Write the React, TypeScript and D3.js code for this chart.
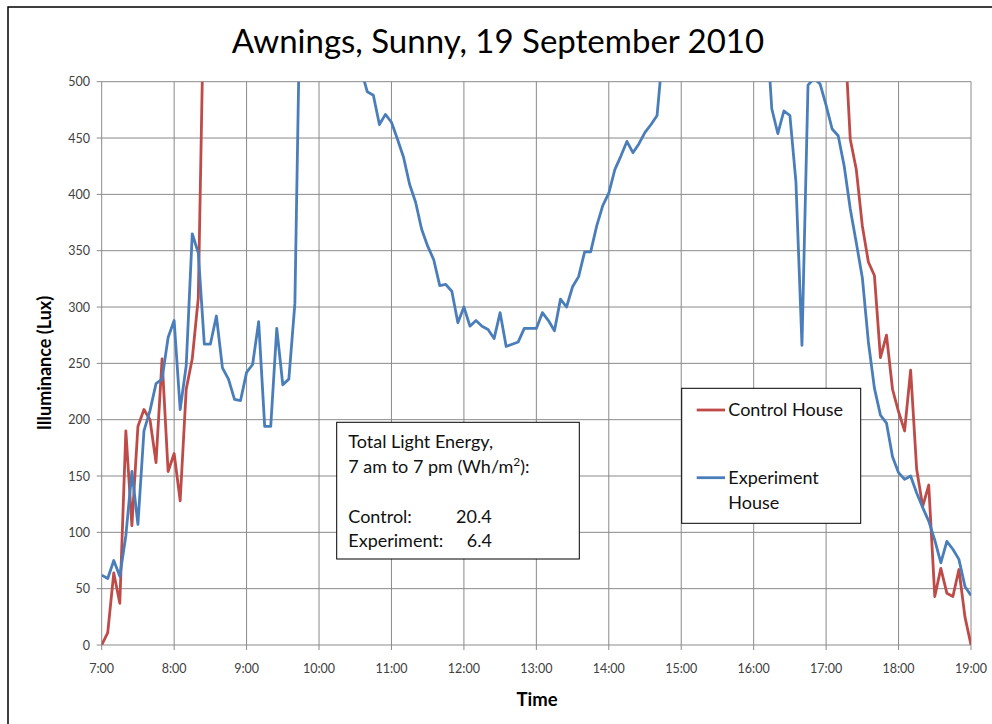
import React from "react";
import * as d3 from "d3";

const title = "Awnings, Sunny, 19 September 2010";
const startMinute = 420; // 7:00
const stepMinutes = 5;
const xTickHours = [7, 8, 9, 10, 11, 12, 13, 14, 15, 16, 17, 18, 19];
const yTicks = [0, 50, 100, 150, 200, 250, 300, 350, 400, 450, 500];

// Control House, 5-minute readings; readings above 500 lux run off the chart and are unreadable (null)
const controlMorning = [0, 11, 64, 37, 190, 106, 194, 209, 200, 162, 254, 154, 170, 128, 227, 254, 308, 600]; // 7:00-8:25
const controlOffChartCount = 105; // 8:30-17:10
const controlEvening = [550, 449, 422, 372, 340, 328, 255, 275, 227, 207, 190, 244, 156, 123, 142, 43, 68, 46, 43, 67, 25, 0]; // 17:15-19:00

// Experiment House
const expMorning = [62, 59, 75, 61, 97, 154, 107, 190, 208, 232, 236, 273, 288, 209, 248, 365, 348, 267, 267, 292,
  246, 236, 218, 217, 242, 249, 287, 194, 194, 281, 231, 236, 303, 620]; // 7:00-9:45
const expOffChart1 = 9; // 9:50-10:30
const expMidday = [510, 491, 488, 462, 471, 464, 449, 433, 409, 393, 369, 354, 342, 319, 320, 314, 286, 300, 283, 288,
  283, 280, 272, 295, 265, 267, 269, 281, 281, 281, 295, 288, 279, 307, 300, 318, 327, 349, 349, 372,
  390, 401, 422, 434, 447, 437, 445, 455, 462, 470, 530]; // 10:35-14:45
const expOffChart2 = 16; // 14:50-16:05
const expEvening = [560, 476, 454, 474, 470, 411, 266, 497, 503, 498, 479, 458, 452, 425, 387, 357, 326, 269, 228, 204,
  197, 167, 153, 147, 150, 135, 122, 110, 93, 73, 92, 85, 76, 52, 44]; // 16:10-19:00

const control: (number | null)[] = [
  ...controlMorning,
  ...new Array(controlOffChartCount).fill(null),
  ...controlEvening,
];
const experiment: (number | null)[] = [
  ...expMorning,
  ...new Array(expOffChart1).fill(null),
  ...expMidday,
  ...new Array(expOffChart2).fill(null),
  ...expEvening,
];

const seriesNames = ["Control House", "Experiment House"];
const seriesColors = ["#BE4B48", "#4A7EBB"];

const FONT = "Lato, 'Open Sans', sans-serif";

export default function App() {
  const W = 992, H = 724;
  const left = 101.7, right = 971, top = 81.7, bottom = 645;
  const x = d3.scaleLinear().domain([420, 1140]).range([left, right]);
  const y = d3.scaleLinear().domain([0, 500]).range([bottom, top]);

  const mk = (arr: (number | null)[]) =>
    d3
      .line<number | null>()
      .defined((d) => d !== null)
      .x((_, i) => x(startMinute + i * stepMinutes))
      .y((d) => y(d as number))(arr) || "";

  const grid = "#8a8a8a";
  const tickColor = "#404040";

  return (
    <svg
      width={W}
      height={H}
      style={{ position: "absolute", left: 0, top: 0, background: "#fff" }}
      fontFamily={FONT}
    >
      <rect x={0} y={0} width={W} height={H} fill="#fff" />
      <rect x={8} y={7} width={1100} height={900} fill="none" stroke="#000" strokeWidth={1.5} />
      <defs>
        <clipPath id="plotclip">
          <rect x={left} y={top} width={right - left} height={bottom - top} />
        </clipPath>
      </defs>
      <text x={498} y={53} textAnchor="middle" fontSize={33} fill="#000">
        {title}
      </text>

      {/* horizontal gridlines + y ticks */}
      {yTicks.map((t) => (
        <g key={"y" + t}>
          <line x1={left - 5} x2={right} y1={y(t)} y2={y(t)} stroke={grid} strokeWidth={1} />
          <text x={90} y={y(t) + 4.5} textAnchor="end" fontSize={12.5} fill={tickColor}>
            {t}
          </text>
        </g>
      ))}
      {/* vertical gridlines + x ticks */}
      {xTickHours.map((h) => (
        <g key={"x" + h}>
          <line x1={x(h * 60)} x2={x(h * 60)} y1={top} y2={bottom + 5} stroke={grid} strokeWidth={1} />
          <text x={x(h * 60)} y={673} textAnchor="middle" fontSize={12.5} fill={tickColor}>
            {h + ":00"}
          </text>
        </g>
      ))}

      <g clipPath="url(#plotclip)">
        <path d={mk(control)} fill="none" stroke={seriesColors[0]} strokeWidth={2.8} strokeLinejoin="round" />
        <path d={mk(experiment)} fill="none" stroke={seriesColors[1]} strokeWidth={2.8} strokeLinejoin="round" />
      </g>

      <text x={537} y={706} textAnchor="middle" fontSize={18.5} fontWeight="bold" fill="#000">
        Time
      </text>
      <text
        transform={`translate(51, ${363}) rotate(-90)`}
        textAnchor="middle"
        fontSize={18}
        fontWeight="bold"
        fill="#000"
      >
        Illuminance (Lux)
      </text>

      {/* annotation box */}
      <rect x={336.7} y={422.3} width={242.6} height={136.7} fill="#fff" stroke="#000" strokeWidth={1} />
      <g fontSize={18} fill="#111">
        <text x={348.3} y={447.7}>Total Light Energy,</text>
        <text x={348.3} y={473.3}>
          7 am to 7 pm (Wh/m<tspan fontSize={12} dy={-7}>2</tspan>
          <tspan dy={7}>):</tspan>
        </text>
        <text x={348.3} y={523.3}>Control:</text>
        <text x={456} y={523.3}>20.4</text>
        <text x={348.3} y={546.7}>Experiment:</text>
        <text x={466.7} y={546.7}>6.4</text>
      </g>

      {/* legend */}
      <rect x={681.7} y={388.3} width={179} height={135} fill="#fff" stroke="#000" strokeWidth={1} />
      <line x1={696.7} x2={725} y1={410} y2={410} stroke={seriesColors[0]} strokeWidth={2.8} />
      <line x1={696.7} x2={725} y1={477.7} y2={477.7} stroke={seriesColors[1]} strokeWidth={2.8} />
      <g fontSize={18} fill="#111">
        <text x={728.3} y={415.5}>{seriesNames[0]}</text>
        <text x={728.3} y={483.5}>Experiment</text>
        <text x={728.3} y={508.5}>House</text>
      </g>
    </svg>
  );
}
